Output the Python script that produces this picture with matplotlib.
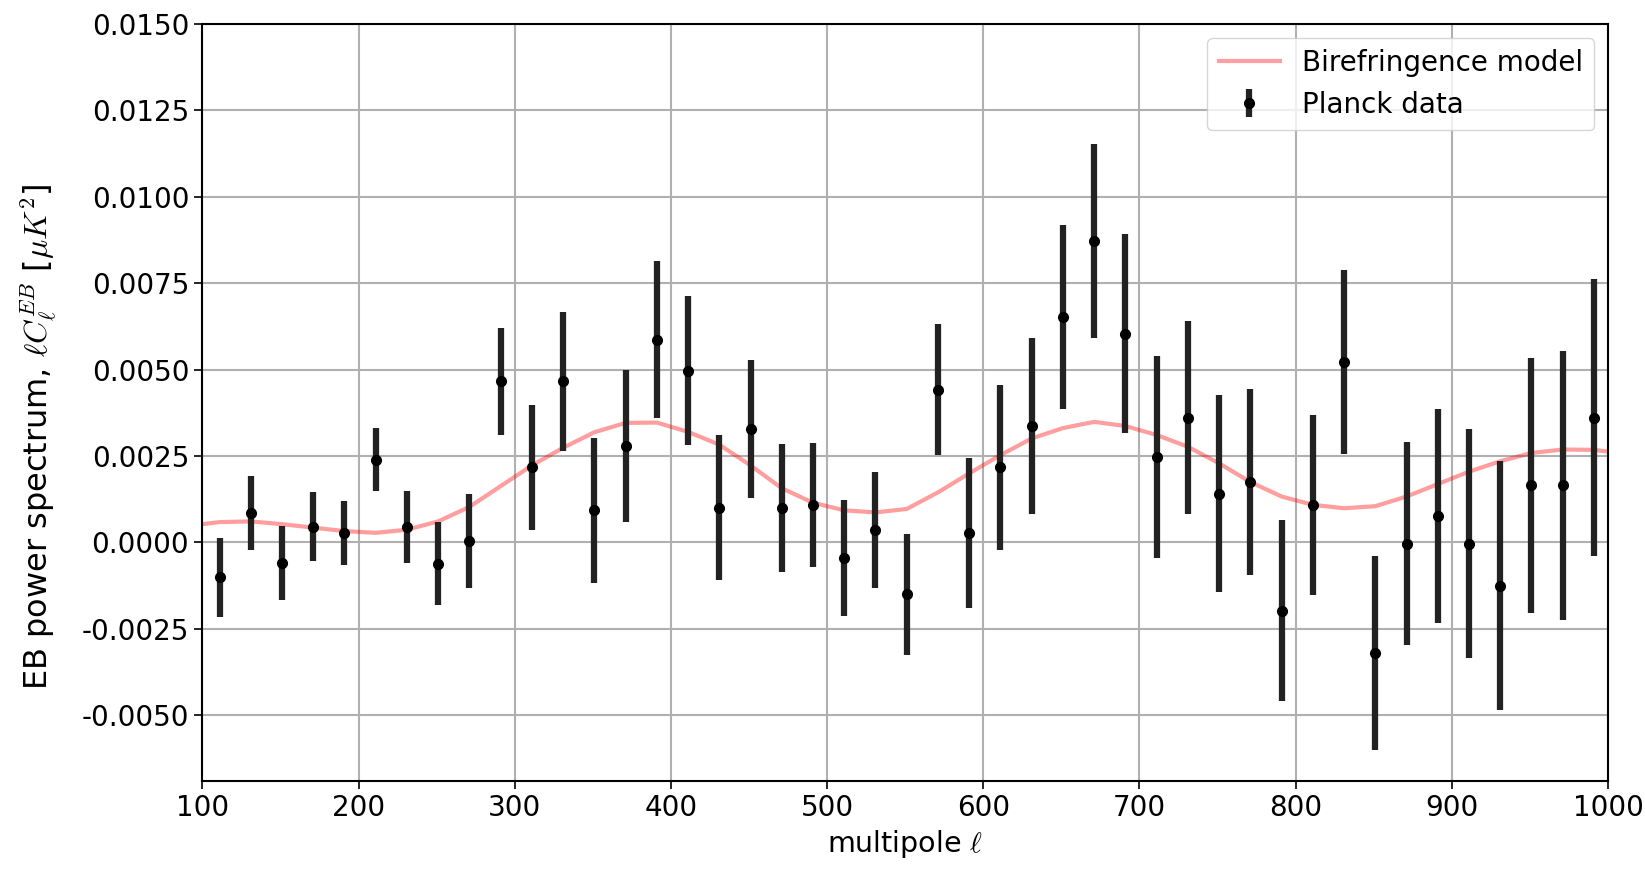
import matplotlib
matplotlib.use("Agg")
import matplotlib.pyplot as plt
import numpy as np

plt.rcParams['mathtext.fontset'] = 'cm'
plt.rcParams['font.family'] = ['DejaVu Sans']

# Planck data (multipole, value, error)
ell = [111, 131, 151, 171, 191, 211, 231, 251, 271, 291,
       311, 331, 351, 371, 391, 411, 431, 451, 471, 491,
       511, 531, 551, 571, 591, 611, 631, 651, 671, 691,
       711, 731, 751, 771, 791, 811, 831, 851, 871, 891,
       911, 931, 951, 971, 991]
cl = [-0.00101, 0.00085, -0.00059, 0.00045, 0.00028, 0.00239, 0.00045, -0.00062, 0.00004, 0.00466,
      0.00217, 0.00466, 0.00093, 0.00280, 0.00587, 0.00497, 0.00101, 0.00329, 0.00101, 0.00109,
      -0.00044, 0.00037, -0.00150, 0.00442, 0.00028, 0.00217, 0.00337, 0.00653, 0.00872, 0.00604,
      0.00247, 0.00361, 0.00141, 0.00175, -0.00197, 0.00109, 0.00523, -0.00320, -0.00003, 0.00077,
      -0.00003, -0.00125, 0.00165, 0.00165, 0.00361]
err = [0.00114, 0.00107, 0.00108, 0.00100, 0.00092, 0.00091, 0.00103, 0.00120, 0.00136, 0.00155,
       0.00180, 0.00200, 0.00210, 0.00220, 0.00228, 0.00215, 0.00210, 0.00200, 0.00185, 0.00180,
       0.00168, 0.00168, 0.00175, 0.00190, 0.00217, 0.00240, 0.00256, 0.00267, 0.00280, 0.00288,
       0.00292, 0.00280, 0.00285, 0.00268, 0.00262, 0.00260, 0.00266, 0.00280, 0.00295, 0.00310,
       0.00330, 0.00360, 0.00370, 0.00390, 0.00400]

# Birefringence model curve
model_ell = [100, 111, 131, 151, 171, 191, 211, 231, 251, 271,
             291, 311, 331, 351, 371, 391, 411, 431, 451, 471,
             491, 511, 531, 551, 571, 591, 611, 631, 651, 671,
             691, 711, 731, 751, 771, 791, 811, 831, 851, 871,
             891, 911, 931, 951, 971, 991, 1000]
model_cl = [0.00053, 0.00059, 0.00061, 0.00053, 0.00043, 0.00033, 0.00028, 0.00037, 0.00061, 0.00103,
            0.00163, 0.00223, 0.00274, 0.00319, 0.00346, 0.00347, 0.00320, 0.00283, 0.00223, 0.00157,
            0.00115, 0.00093, 0.00087, 0.00097, 0.00145, 0.00200, 0.00253, 0.00301, 0.00331, 0.00349,
            0.00337, 0.00311, 0.00277, 0.00229, 0.00175, 0.00133, 0.00109, 0.00099, 0.00105, 0.00133,
            0.00169, 0.00205, 0.00235, 0.00259, 0.00269, 0.00268, 0.00263]

xticks = [100, 200, 300, 400, 500, 600, 700, 800, 900, 1000]
yticks = [-0.0050, -0.0025, 0.0, 0.0025, 0.0050, 0.0075, 0.0100, 0.0125, 0.0150]

fig = plt.figure(figsize=(16.45, 8.72), dpi=100)
ax = fig.add_axes([0.123, 0.1044, 0.8545, 0.868])

ax.plot(model_ell, model_cl, color='red', alpha=0.38, lw=3, label='Birefringence model', zorder=2)
ax.errorbar(ell, cl, yerr=err, fmt='o', color='black', ecolor='#222222', elinewidth=4.5,
            markersize=7, label='Planck data', zorder=3)

ax.set_xlim(100, 1000)
ax.set_ylim(-0.0069, 0.015)
ax.set_xticks(xticks)
ax.set_yticks(yticks)
ax.set_yticklabels([f"{v:.4f}" for v in yticks])
ax.tick_params(labelsize=20, length=6, width=1.2)
ax.grid(True, color='#b0b0b0', lw=1.5)
for s in ax.spines.values():
    s.set_linewidth(1.5)

ax.set_xlabel(r'multipole $\ell$', fontsize=20.5)
ax.set_ylabel(r'EB power spectrum, $\ell C_\ell^{EB}$ [$\mu K^2$]', fontsize=23)
ax.yaxis.set_label_coords(-0.102, 0.454)

ax.legend(loc='upper right', fontsize=20, framealpha=0.8, handlelength=2.2)

fig.savefig('out.png', dpi=100)
